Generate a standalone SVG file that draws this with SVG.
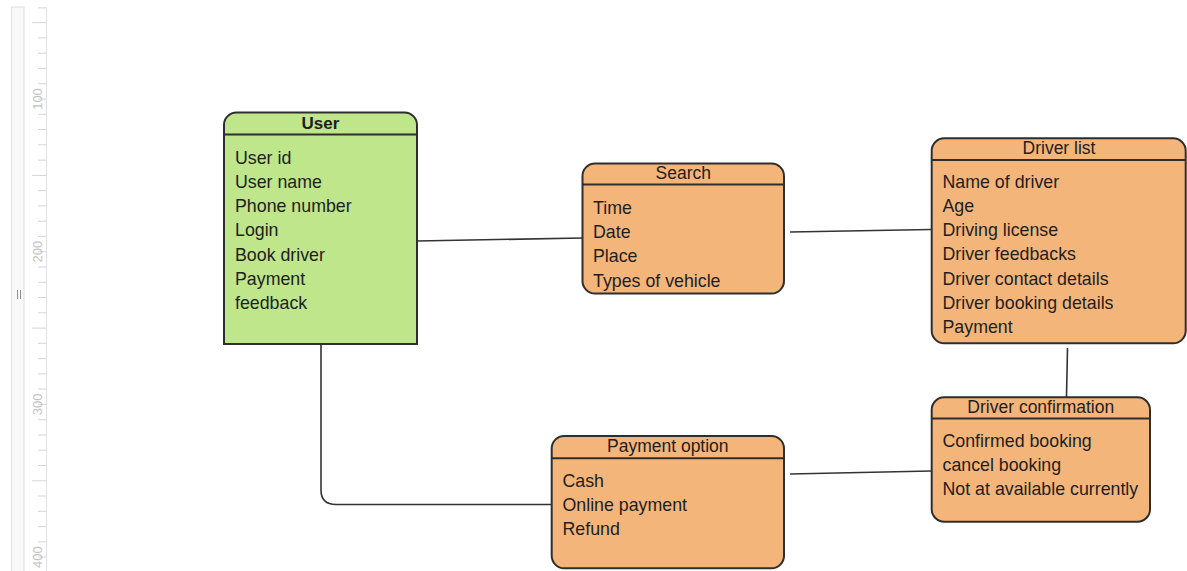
<svg xmlns="http://www.w3.org/2000/svg" width="1187" height="571" viewBox="0 0 1187 571">
  <style>
    .entity { stroke: #2e2e2e; stroke-width: 2; }
    .user { fill: #bfe68a; }
    .table { fill: #f4b57a; }
    .sep { stroke: #2e2e2e; stroke-width: 2; }
    .title { font-family: "Liberation Sans", Arial, sans-serif; font-size: 17.5px; fill: #1e1e1e; text-anchor: middle; }
    .title.bold { font-weight: bold; font-size: 17px; }
    .item { font-family: "Liberation Sans", Arial, sans-serif; font-size: 17.8px; fill: #1e1e1e; }
    .conn { fill: none; stroke: #333; stroke-width: 1.6; }
    .tick { stroke: #d4d4dc; stroke-width: 1; }
    .rlabel { font-family: "Liberation Sans", Arial, sans-serif; font-size: 13px; fill: #c2c2c2; text-anchor: middle; }
  </style>

  <rect width="1187" height="571" fill="#ffffff"/>

  <!-- vertical ruler -->
  <g id="ruler">
    <rect x="11.5" y="7" width="12.5" height="570" fill="#f8f8f8" stroke="#e0e0e6" stroke-width="1"/>
    <line x1="46.5" y1="7" x2="46.5" y2="571" stroke="#e0e0e6" stroke-width="1"/>
    <line x1="17.5" y1="290" x2="17.5" y2="299" stroke="#909090" stroke-width="1"/>
    <line x1="20.5" y1="290" x2="20.5" y2="299" stroke="#909090" stroke-width="1"/>
    <g class="tick">
      <line x1="38" y1="7.9" x2="46" y2="7.9"/>
      <line x1="32" y1="22.6" x2="46" y2="22.6"/>
      <line x1="38" y1="37.9" x2="46" y2="37.9"/>
      <line x1="38" y1="53.2" x2="46" y2="53.2"/>
      <line x1="38" y1="68.5" x2="46" y2="68.5"/>
      <line x1="38" y1="83.7" x2="46" y2="83.7"/>
      <line x1="38" y1="99" x2="46" y2="99"/>
      <line x1="38" y1="114.3" x2="46" y2="114.3"/>
      <line x1="38" y1="129.5" x2="46" y2="129.5"/>
      <line x1="38" y1="144.8" x2="46" y2="144.8"/>
      <line x1="38" y1="160.1" x2="46" y2="160.1"/>
      <line x1="32" y1="175.4" x2="46" y2="175.4"/>
      <line x1="38" y1="190.6" x2="46" y2="190.6"/>
      <line x1="38" y1="205.9" x2="46" y2="205.9"/>
      <line x1="38" y1="221.2" x2="46" y2="221.2"/>
      <line x1="38" y1="236.4" x2="46" y2="236.4"/>
      <line x1="38" y1="251.7" x2="46" y2="251.7"/>
      <line x1="38" y1="267" x2="46" y2="267"/>
      <line x1="38" y1="282.3" x2="46" y2="282.3"/>
      <line x1="38" y1="297.5" x2="46" y2="297.5"/>
      <line x1="38" y1="312.8" x2="46" y2="312.8"/>
      <line x1="32" y1="328.1" x2="46" y2="328.1"/>
      <line x1="38" y1="343.3" x2="46" y2="343.3"/>
      <line x1="38" y1="358.6" x2="46" y2="358.6"/>
      <line x1="38" y1="373.9" x2="46" y2="373.9"/>
      <line x1="38" y1="389.1" x2="46" y2="389.1"/>
      <line x1="38" y1="404.4" x2="46" y2="404.4"/>
      <line x1="38" y1="419.7" x2="46" y2="419.7"/>
      <line x1="38" y1="435" x2="46" y2="435"/>
      <line x1="38" y1="450.2" x2="46" y2="450.2"/>
      <line x1="38" y1="465.5" x2="46" y2="465.5"/>
      <line x1="32" y1="480.8" x2="46" y2="480.8"/>
      <line x1="38" y1="496" x2="46" y2="496"/>
      <line x1="38" y1="511.3" x2="46" y2="511.3"/>
      <line x1="38" y1="526.6" x2="46" y2="526.6"/>
      <line x1="38" y1="541.9" x2="46" y2="541.9"/>
      <line x1="38" y1="557.1" x2="46" y2="557.1"/>
    </g>
    <text class="rlabel" transform="translate(41.5,99) rotate(-90)">100</text>
    <text class="rlabel" transform="translate(41.5,251.7) rotate(-90)">200</text>
    <text class="rlabel" transform="translate(41.5,404.4) rotate(-90)">300</text>
    <text class="rlabel" transform="translate(41.5,557.1) rotate(-90)">400</text>
  </g>

  <!-- relationships -->
  <g id="connectors">
    <line class="conn" x1="417" y1="241" x2="582" y2="238"/>
    <line class="conn" x1="790" y1="232" x2="931" y2="229.5"/>
    <line class="conn" x1="1067.5" y1="348" x2="1066.5" y2="397"/>
    <line class="conn" x1="790" y1="474" x2="931" y2="471"/>
    <path class="conn" d="M321,345 V490 Q321,504.5 336,504.5 H552"/>
  </g>

  <!-- User -->
  <g id="user">
    <path class="entity user" d="M224,344 V125 A12.5,12.5 0 0 1 236.5,112.5 H404.5 A12.5,12.5 0 0 1 417,125 V344 Z"/>
    <line class="sep" x1="224" y1="134.5" x2="417" y2="134.5"/>
    <text class="title bold" x="320.5" y="129">User</text>
    <text class="item" x="235" y="163.5">User id</text>
    <text class="item" x="235" y="187.8">User name</text>
    <text class="item" x="235" y="212.1">Phone number</text>
    <text class="item" x="235" y="236.4">Login</text>
    <text class="item" x="235" y="260.7">Book driver</text>
    <text class="item" x="235" y="285">Payment</text>
    <text class="item" x="235" y="309.3">feedback</text>
  </g>

  <!-- Search -->
  <g id="search">
    <rect class="entity table" x="582.5" y="163.5" width="201.5" height="130" rx="12.5"/>
    <line class="sep" x1="582.5" y1="184.5" x2="784" y2="184.5"/>
    <text class="title" x="683.3" y="179">Search</text>
    <text class="item" x="593" y="213.8">Time</text>
    <text class="item" x="593" y="238.1">Date</text>
    <text class="item" x="593" y="262.4">Place</text>
    <text class="item" x="593" y="286.7">Types of vehicle</text>
  </g>

  <!-- Driver list -->
  <g id="driver-list">
    <rect class="entity table" x="931.7" y="138.3" width="254" height="205" rx="12.5"/>
    <line class="sep" x1="931.7" y1="160" x2="1185.7" y2="160" stroke-width="2.5"/>
    <text class="title" x="1059" y="154">Driver list</text>
    <text class="item" x="942.5" y="187.5">Name of driver</text>
    <text class="item" x="942.5" y="211.8">Age</text>
    <text class="item" x="942.5" y="236.1">Driving license</text>
    <text class="item" x="942.5" y="260.4">Driver feedbacks</text>
    <text class="item" x="942.5" y="284.7">Driver contact details</text>
    <text class="item" x="942.5" y="309">Driver booking details</text>
    <text class="item" x="942.5" y="333.3">Payment</text>
  </g>

  <!-- Driver confirmation -->
  <g id="driver-confirmation">
    <rect class="entity table" x="931.7" y="397.3" width="218.3" height="124.4" rx="12.5"/>
    <line class="sep" x1="931.7" y1="418.5" x2="1150" y2="418.5"/>
    <text class="title" x="1040.8" y="412.7">Driver confirmation</text>
    <text class="item" x="942.5" y="446.8">Confirmed booking</text>
    <text class="item" x="942.5" y="471.1">cancel booking</text>
    <text class="item" x="942.5" y="495.4">Not at available currently</text>
  </g>

  <!-- Payment option -->
  <g id="payment-option">
    <rect class="entity table" x="551.7" y="436" width="232.3" height="132.3" rx="12.5"/>
    <line class="sep" x1="551.7" y1="458.3" x2="784" y2="458.3"/>
    <text class="title" x="667.8" y="451.7">Payment option</text>
    <text class="item" x="562.5" y="486.8">Cash</text>
    <text class="item" x="562.5" y="511.1">Online payment</text>
    <text class="item" x="562.5" y="535.4">Refund</text>
  </g>
</svg>
